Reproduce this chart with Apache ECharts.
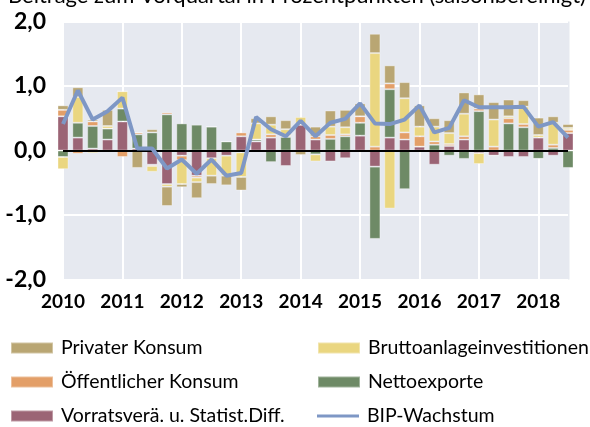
<!DOCTYPE html>
<html>
<head>
<meta charset="utf-8">
<script src="https://cdn.jsdelivr.net/npm/echarts@6/dist/echarts.min.js"></script>
<style>
    html, body {margin: 0; padding: 0; background: #fff;}
    #main {width: 590px; height: 427px;}
</style>
</head>
<body>
<div id="main"></div>
<script>
// Beiträge zum BIP-Wachstum, Quartale 2010Q1 - 2018Q3
var quarters = ['2010Q1', '2010Q2', '2010Q3', '2010Q4', '2011Q1', '2011Q2', '2011Q3', '2011Q4',
    '2012Q1', '2012Q2', '2012Q3', '2012Q4', '2013Q1', '2013Q2', '2013Q3', '2013Q4',
    '2014Q1', '2014Q2', '2014Q3', '2014Q4', '2015Q1', '2015Q2', '2015Q3', '2015Q4',
    '2016Q1', '2016Q2', '2016Q3', '2016Q4', '2017Q1', '2017Q2', '2017Q3', '2017Q4',
    '2018Q1', '2018Q2', '2018Q3'];

var privaterKonsum = [0.07, 0.15, 0.03, 0.25, 0, -0.27, 0.05, -0.3,
    -0.05, -0.25, -0.13, -0.15, -0.21, 0.08, 0.13, 0.14,
    -0.07, 0.15, 0.25, 0.27, 0.2, 0.3, 0.28, 0.25,
    0.33, 0.13, 0.2, 0.33, 0.22, 0.27, 0.26, 0.1,
    0.27, 0.1, 0.06];
var bruttoanlage = [-0.19, 0.4, -0.04, 0.04, 0.27, 0, -0.09, -0.04,
    -0.37, -0.07, -0.27, -0.31, -0.38, 0.25, 0.15, 0.1,
    0.12, -0.11, 0.13, 0.11, 0, 1.45, -0.9, 0.53,
    0.15, 0.23, 0.17, 0.35, -0.17, 0.42, 0.03, 0.27,
    0.04, 0.34, 0.03];
var oeffKonsum = [0.1, -0.05, 0.07, 0, -0.1, 0.03, -0.02, 0.03,
    -0.07, -0.03, 0, 0, 0.06, 0, 0.05, 0.02,
    0, 0.05, 0.06, 0.03, 0.1, 0.06, 0.09, 0.11,
    0.16, 0.05, 0.03, 0.05, 0.04, 0.06, 0.08, 0.05,
    0, 0.05, 0.05];
var nettoexporte = [-0.1, 0.23, 0.35, 0.17, 0.2, 0.22, 0.28, 0.56,
    0.42, 0.4, 0.37, 0.14, -0.03, 0.03, -0.18, 0.21,
    0, -0.06, 0.18, 0.22, 0.2, -1.12, 0.75, -0.6,
    0, 0.09, -0.08, -0.13, 0.61, 0, 0.42, 0.36,
    -0.13, 0.04, -0.27];
var vorrats = [0.53, 0.2, 0.03, 0.17, 0.45, 0.03, -0.22, -0.52,
    -0.08, -0.39, -0.12, -0.08, 0.22, 0.14, 0.2, -0.24,
    0.4, 0.17, -0.17, -0.12, 0.23, -0.25, 0.2, 0.17,
    0.06, -0.22, 0.07, 0.17, -0.04, -0.08, -0.1, -0.1,
    0.2, -0.08, 0.27];
var bipWachstum = [0.41, 0.93, 0.48, 0.61, 0.82, 0.03, 0.03, -0.28,
    -0.14, -0.36, -0.14, -0.39, -0.35, 0.52, 0.33, 0.22,
    0.46, 0.22, 0.43, 0.49, 0.73, 0.42, 0.41, 0.48,
    0.7, 0.28, 0.35, 0.78, 0.67, 0.67, 0.67, 0.68,
    0.37, 0.44, 0.2];

var font = 'Lato, "Noto Sans", sans-serif';

// only the first quarter of each year gets a label and a grid line
function isYearStart(index, value) {
    return quarters[index].substr(4) === 'Q1';
}

function barSeries(name, values, color) {
    return {
        name: name,
        type: 'bar',
        stack: 'beitrag',
        barWidth: 11,
        data: values,
        itemStyle: {color: color, borderColor: 'rgba(255,255,255,0.35)', borderWidth: 1},
        emphasis: {disabled: true}
    };
}

// one legend per entry, so the 2x3 block can be placed freely
function legendItem(left, centerY, name, iconHeight) {
    return {
        left: left, top: centerY - 11,
        padding: 0,
        itemWidth: 42, itemHeight: iconHeight,
        textStyle: {fontSize: 19.5, color: '#000', fontFamily: font, lineHeight: 22, padding: [0, 0, 0, 3]},
        data: [{name: name, icon: 'rect'}]
    };
}

var chart = echarts.init(document.getElementById('main'));

var option = {
    animation: false,
    textStyle: {fontFamily: font},
    graphic: [{
        type: 'rect',
        z: -10,
        shape: {x: 63, y: 21.5, width: 506.5, height: 258},
        style: {fill: '#e6e9f0'}
    }, {
        type: 'text',
        left: 8,
        top: -15.5,
        style: {
            text: 'Beiträge zum Vorquartal in Prozentpunkten (saisonbereinigt)',
            font: '22px ' + font,
            fill: '#000'
        }
    }],
    grid: {
        left: 63, right: 22, top: 21.5, bottom: 147.5
    },
    legend: [
        legendItem(10, 348, 'Privater Konsum', 11),
        legendItem(10, 382, 'Öffentlicher Konsum', 11),
        legendItem(10, 416, 'Vorratsverä. u. Statist.Diff.', 11),
        legendItem(317, 348, 'Bruttoanlageinvestitionen', 11),
        legendItem(317, 382, 'Nettoexporte', 11),
        legendItem(317, 416, 'BIP-Wachstum', 3)
    ],
    xAxis: {
        type: 'category',
        data: quarters,
        boundaryGap: false,
        axisLine: {show: false},
        axisTick: {show: false},
        axisLabel: {
            interval: isYearStart,
            margin: 13, fontSize: 19, fontWeight: 'bold', color: '#000',
            formatter: function (v) { return v.substr(0, 4); }
        },
        splitLine: {show: true, interval: isYearStart, lineStyle: {color: '#fff', width: 2}}
    },
    yAxis: {
        type: 'value',
        min: -2, max: 2, interval: 1,
        axisLine: {show: false},
        axisTick: {show: false},
        axisLabel: {
            margin: 17, fontSize: 23, fontWeight: 'bold', color: '#000',
            formatter: function (v) { return v.toFixed(1).replace('.', ','); }
        },
        splitLine: {show: true, lineStyle: {color: '#fff', width: 2}}
    },
    series: [
        barSeries('Vorratsverä. u. Statist.Diff.', vorrats, '#9b6475'),
        barSeries('Nettoexporte', nettoexporte, '#6e8a66'),
        barSeries('Öffentlicher Konsum', oeffKonsum, '#e39f68'),
        barSeries('Bruttoanlageinvestitionen', bruttoanlage, '#ead680'),
        barSeries('Privater Konsum', privaterKonsum, '#b9a673'),
        {
            name: 'BIP-Wachstum',
            type: 'line',
            data: bipWachstum,
            symbol: 'none',
            z: 5,
            lineStyle: {color: '#7e97c5', width: 4},
            itemStyle: {color: '#7e97c5'},
            emphasis: {disabled: true},
            markLine: {
                silent: true,
                symbol: 'none',
                label: {show: false},
                lineStyle: {color: '#000', width: 2, type: 'solid'},
                data: [{yAxis: 0}]
            }
        }
    ]
};

chart.setOption(option);
</script>
</body>
</html>
